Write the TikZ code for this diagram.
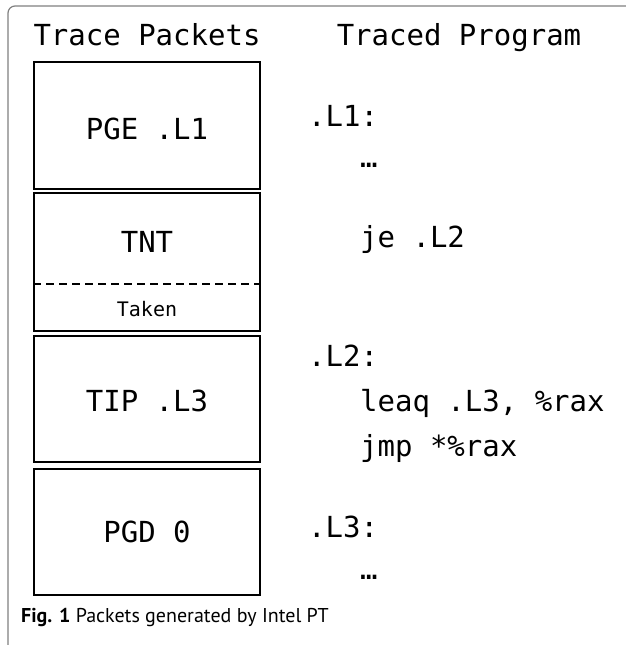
\documentclass[tikz,border=0pt]{standalone}
\usepackage{fontspec}
\newfontfamily\codefont{DejaVu Sans Mono}
\newfontfamily\capfont{PT Sans}
\begin{document}
\begin{tikzpicture}[x=1pt,y=-1pt,
  packet/.style={draw=black,line width=2pt,minimum width=226pt,inner sep=0pt},
  big/.style={font=\codefont\fontsize{29}{33}\selectfont,inner sep=0pt},
  small/.style={font=\codefont\fontsize{20}{24}\selectfont,inner sep=0pt},
  code/.style={big,anchor=base west},
  frameline/.style={draw=black!50,line width=1.2pt}]
\useasboundingbox (0,0) rectangle (625,645);
% outer frame
\draw[frameline,rounded corners=7pt] (8,648) -- (8,6) -- (630,6);
% titles
\node[big,anchor=base] (t1) at (147,45) {Trace Packets};
\node[big,anchor=base] (t2) at (459,45) {Traced Program};
% packet boxes
\node[packet,minimum height=127pt] (b1) at (147,125.5) {};
\node[packet,minimum height=138pt] (b2) at (147,262) {};
\node[packet,minimum height=126pt] (b3) at (147,399) {};
\node[packet,minimum height=126pt] (b4) at (147,531.5) {};
\node[big] (p1) at (147,129) {PGE .L1};
\node[big] (p2) at (147,242) {TNT};
\node[small] (p2b) at (147,309) {Taken};
\node[big] (p3) at (147,401) {TIP .L3};
\node[big] (p4) at (147,532) {PGD 0};
\path (b2.west) ++(0,22) coordinate (dl);
\draw[line width=2pt,dash pattern=on 8pt off 5pt] (dl) -- (dl -| b2.east);
% program
\node[code] (c1) at (308,126) {.L1:};
\node[code] (c2) at (360,167) {…};
\node[code] (c3) at (360,247) {je .L2};
\node[code] (c4) at (308,366) {.L2:};
\node[code] (c5) at (360,411) {leaq .L3, \%rax};
\node[code] (c6) at (360,456) {jmp *\%rax};
\node[code] (c7) at (308,537) {.L3:};
\node[code] (c8) at (360,579) {…};
% caption
\node[anchor=base west,inner sep=0pt,font=\capfont\fontsize{20}{24}\selectfont] (cap) at (21,622) {\textbf{Fig. 1} Packets generated by Intel PT};
\end{tikzpicture}
\end{document}
